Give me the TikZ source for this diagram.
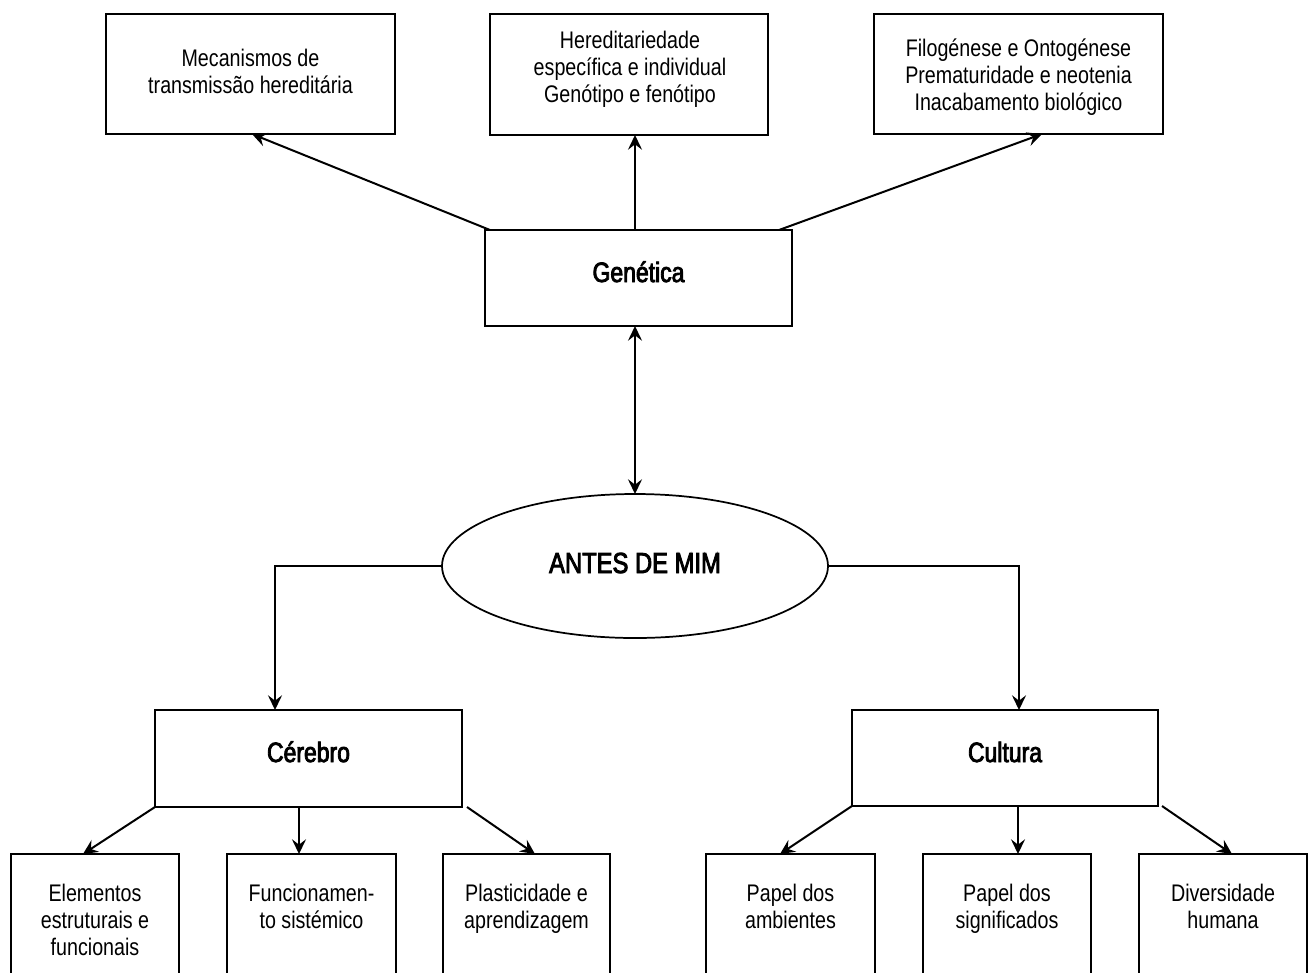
\documentclass[tikz,border=0pt]{standalone}
\usepackage{fontspec}
\setmainfont{Liberation Sans}[FakeStretch=0.82]
\newfontfamily\headfont{Liberation Sans}[FakeStretch=0.82,FakeBold=3]
\usetikzlibrary{arrows.meta,calc,shapes.geometric,fit}

\begin{document}
\begin{tikzpicture}[x=0.75pt,y=-0.75pt,
  box/.style={draw,line width=1.6pt,inner sep=0pt,outer sep=0pt},
  % multi-line labels are placed by the baseline of their last line
  body/.style={anchor=base,align=center,inner sep=0pt,
    font=\fontsize{18pt}{20.25pt}\selectfont},
  head/.style={anchor=base,inner sep=0pt,font=\headfont\fontsize{21pt}{24pt}\selectfont},
  tip/.tip={Stealth[length=11pt,width=10.5pt,inset=4pt]},
  link/.style={line width=1.5pt,-tip},
  dlink/.style={line width=1.5pt,tip-tip},
]
\useasboundingbox (0,0) rectangle (1313,972);

% upper row of topics
\node[box,fit={(106,14)(395,134)}] (mec) {};
\node[box,fit={(490,14)(768,135)}] (her) {};
\node[box,fit={(874,14)(1163,134)}] (filo) {};
\node[body] (mect) at (250.5,93) {Mecanismos de\\transmissão hereditária};
\node[body] (hert) at (630,102) {Hereditariedade\\específica e individual\\Genótipo e fenótipo};
\node[body] (filot) at (1018.5,110) {Filogénese e Ontogénese\\Prematuridade e neotenia\\Inacabamento biológico};

% genetics
\node[box,fit={(485,230)(792,326)}] (gen) {};
\node[head] (gent) at (638.5,282) {Genética};

% centre
\node[draw,ellipse,line width=1.3pt,inner sep=0pt,outer sep=0pt,
  minimum width=289.5pt,minimum height=108pt] (mim) at (635,566) {};
\node[head,font=\headfont\fontsize{21.75pt}{24pt}\selectfont] (mimt) at (635,573) {ANTES DE MIM};

% brain and culture
\node[box,fit={(155,710)(462,807)}] (cer) {};
\node[box,fit={(852,710)(1158,806)}] (cul) {};
\node[head] (cert) at (308.5,762) {Cérebro};
\node[head] (cult) at (1005,762) {Cultura};

% lower row (runs past the bottom edge)
\node[box,fit={(11,854)(179,1010)}] (b1) {};
\node[box,fit={(227,854)(396,1010)}] (b2) {};
\node[box,fit={(443,854)(610,1010)}] (b3) {};
\node[box,fit={(706,854)(875,1010)}] (b4) {};
\node[box,fit={(923,854)(1091,1010)}] (b5) {};
\node[box,fit={(1139,854)(1307,1010)}] (b6) {};
\node[body] (b1t) at (95,955) {Elementos\\estruturais e\\funcionais};
\node[body] (b2t) at (311.5,928) {Funcionamen-\\to sistémico};
\node[body] (b3t) at (526.5,928) {Plasticidade e\\aprendizagem};
\node[body] (b4t) at (790.5,928) {Papel dos\\ambientes};
\node[body] (b5t) at (1007,928) {Papel dos\\significados};
\node[body] (b6t) at (1223,928) {Diversidade\\humana};

% connectors
\draw[link] ($(gen.north west)+(5,0)$) -- ($(mec.south west)+(146,0)$);
\draw[link] ($(gen.north)+(-3.5,0)$) -- ($(her.south)+(6,0)$);
\draw[link] ($(gen.north east)+(-13,0)$) -- ($(filo.south west)+(168,0)$);
\draw[dlink] (gen.south -| mim.north) -- (mim.north);
\draw[link] (mim.west) -| ($(cer.north west)+(120,0)$);
\draw[link] (mim.east) -| ($(cul.north west)+(167,0)$);

\draw[link] (cer.south west) -- ($(b1.north west)+(72,0)$);
\draw[link] ($(cer.south west)+(144,0)$) coordinate (c2) -- (c2 |- b2.north);
\draw[link] ($(cer.south east)+(5,0)$) -- ($(b3.north west)+(92,0)$);
\draw[link] (cul.south west) -- ($(b4.north west)+(74,0)$);
\draw[link] ($(cul.south west)+(166,0)$) coordinate (c5) -- (c5 |- b5.north);
\draw[link] ($(cul.south east)+(4,0)$) -- ($(b6.north west)+(93,0)$);
\end{tikzpicture}
\end{document}
